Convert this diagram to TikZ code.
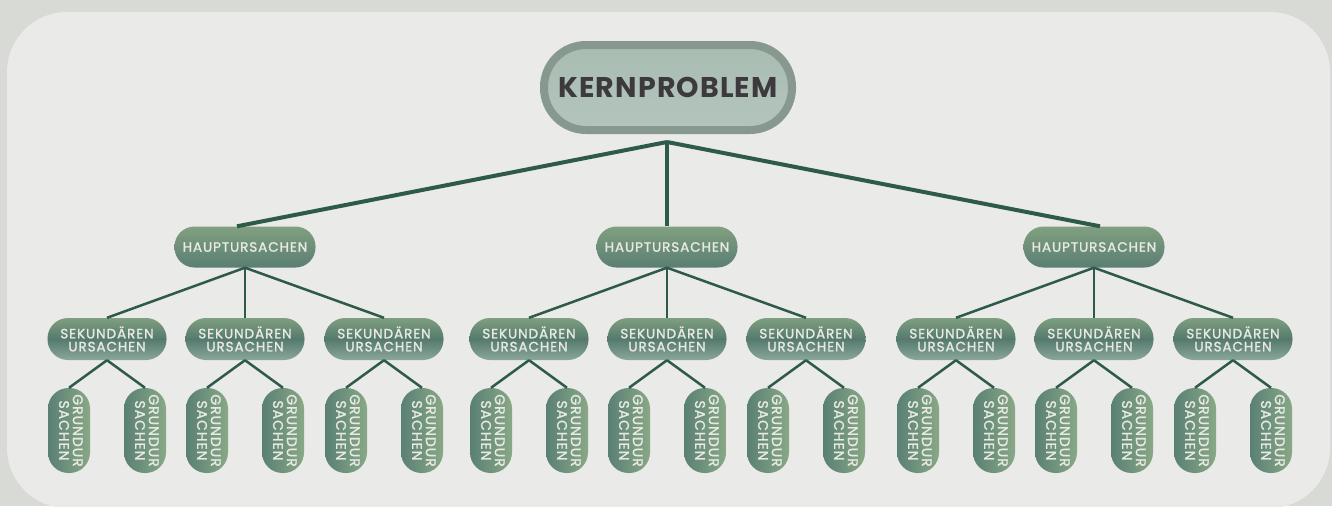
\documentclass[tikz,border=0pt]{standalone}
\usepackage{fontspec}
\usepackage{graphicx}
\setmainfont{Poppins}
\newfontfamily\spacedfont[LetterSpace=7,FakeBold=1.5]{Poppins}
\newfontfamily\kernfont[LetterSpace=4]{Poppins}
\usetikzlibrary{calc}
\definecolor{bgout}{HTML}{D8DAD5}
\definecolor{bgin}{HTML}{EAEAE8}
\definecolor{kernborder}{HTML}{87998F}
\definecolor{kerntop}{HTML}{A8BDB2}
\definecolor{kernbot}{HTML}{B4C4BD}
\definecolor{kerntext}{HTML}{3C3A3D}
\definecolor{linecol}{HTML}{2E5A4B}
\definecolor{gtop}{HTML}{81A080}
\definecolor{gbot}{HTML}{5A7E73}
\definecolor{stop}{HTML}{7F9F80}
\definecolor{smid}{HTML}{557A6D}
\definecolor{sbot}{HTML}{8BA79C}
\definecolor{gleft}{HTML}{5A8074}
\definecolor{gright}{HTML}{88A886}
\definecolor{lighttext}{HTML}{E8E9E3}
\begin{document}
\begin{tikzpicture}[x=1pt,y=-1pt,
  kern/.style={draw=kernborder, line width=8pt, top color=kerntop, bottom color=kernbot,
    rounded corners=42pt, minimum width=248pt, minimum height=85pt, inner sep=0pt,
    text=kerntext, font=\kernfont\fontsize{28.5}{28.5}\selectfont\bfseries},
  haupt/.style={rectangle, rounded corners=20pt, minimum width=141pt, minimum height=41pt,
    inner sep=0pt, top color=gtop, bottom color=gbot, text=lighttext,
    font=\spacedfont\fontsize{13.5}{13.5}\selectfont},
  sek/.style={rectangle, rounded corners=20.5pt, minimum width=119pt, minimum height=42pt,
    inner sep=0pt, top color=stop, bottom color=sbot, middle color=smid, text=lighttext,
    align=center, font=\spacedfont\fontsize{13.5}{13}\selectfont},
  grund/.style={rectangle, rounded corners=20.5pt, minimum width=42pt, minimum height=85pt,
    inner sep=0pt, left color=gleft, right color=gright, text=lighttext,
    font=\spacedfont\fontsize{14}{13}\selectfont},
  mainline/.style={draw=linecol, line width=4pt},
  subline/.style={draw=linecol, line width=2.5pt}]
\useasboundingbox (0,0) rectangle (1332,506);
\fill[bgout] (0,0) rectangle (1332,506);
\fill[bgin, rounded corners=60pt] (7,12) rectangle (1330,508);
\node[kern] (k) at (668,87.5) {KERNPROBLEM};
\coordinate (kj) at ($(k.south)+(-1,8)$);
\foreach \hx [count=\i] in {245,667,1094} {
  \node[haupt] (h\i) at (\hx,247) {HAUPTURSACHEN};
  \foreach \dx [count=\j] in {-138,0,139} {
    \node[sek] (s\i\j) at (\hx+\dx,339) {SEKUNDÄREN\\URSACHEN};
    \draw[subline] (h\i.south) -- (s\i\j.north);
    \foreach \gx [count=\k] in {-38,38} {
      \node[grund] (g\i\j\k) at ($(s\i\j)+(\gx,91.5)$)
        {\rotatebox{-90}{\renewcommand{\arraystretch}{1}\begin{tabular}{@{}c@{}}GRUNDUR\\SACHEN\end{tabular}}};
      \draw[subline] (s\i\j.south) -- (g\i\j\k.north);
    }
  }
}
\draw[mainline] (kj) -- ($(h1.north)+(-8,0)$);
\draw[mainline] (kj) -- (h2.north);
\draw[mainline] (kj) -- ($(h3.north)+(6,0)$);
\end{tikzpicture}
\end{document}
